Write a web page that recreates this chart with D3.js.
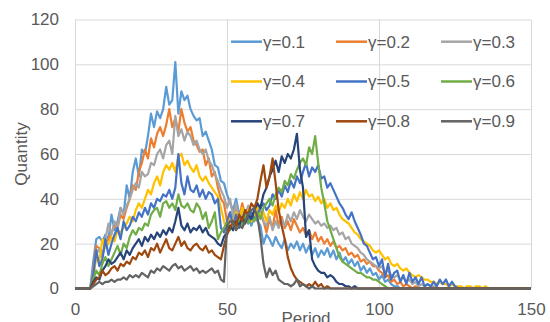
<!DOCTYPE html>
<html>
<head>
<meta charset="utf-8">
<script src="https://cdn.jsdelivr.net/npm/d3@7"></script>
<style>
  body { margin: 0; background: #fff; }
  svg { display: block; font-family: "Liberation Sans", Arial, sans-serif; }
</style>
</head>
<body>
<div id="chart"></div>
<script>
// data (one value per period 0..150)
var seriesNames = ["γ=0.1", "γ=0.2", "γ=0.3", "γ=0.4", "γ=0.5", "γ=0.6", "γ=0.7", "γ=0.8", "γ=0.9"];
var seriesColors = ["#5B9BD5", "#ED7D31", "#A5A5A5", "#FFC000", "#4472C4", "#70AD47", "#264478", "#9E480E", "#636363"];
var xTicks = [0, 50, 100, 150];
var yTicks = [0, 20, 40, 60, 80, 100, 120];

var g01 = [0,0,0,0,0,0,12,22,23,21, 24,22,33,26,30,36,33,46,40,52, 58,50,62,60,68,78,72,79,76,80,
  90,82,84,101,78,88,84,86,80,77, 75,76,68,70,66,62,55,54,48,47, 42,38,35,40,33,36,30,33,28,32,
  30,28,20,24,22,19,23,20,18,22, 17,20,18,21,17,20,16,19,15,18, 14,17,15,18,14,17,13,16,12,14,
  11,13,10,12,8,10,7,9,6,7, 4,6,3,4,2,1,1,0,0,0, 0,0,0,0,0,0,0,0,0,0,
  0,0,0,0,0,0,0,0,0,0, 0,0,0,0,0,0,0,0,0,0, 0,0,0,0,0,0,0,0,0,0, 0];
var g02 = [0,0,0,0,0,0,8,19,18,15, 20,22,25,28,27,33,31,36,40,46, 44,52,56,62,58,67,63,69,72,68,
  73,80,72,76,70,80,74,70,72,66, 64,61,62,55,58,50,52,45,40,38, 30,34,28,35,31,38,33,36,30,34,
  38,33,30,25,31,27,35,28,32,27, 30,26,31,28,25,27,24,26,22,25, 21,23,20,22,19,21,18,19,17,18,
  15,16,14,15,12,13,11,12,10,10, 8,7,5,6,3,4,2,3,1,2, 1,0,1,0,0,0,0,0,0,0,
  0,0,0,0,0,0,0,0,0,0, 0,0,0,0,0,0,0,0,0,0, 0,0,0,0,0,0,0,0,0,0, 0];
var g03 = [0,0,0,0,0,0,6,15,18,14, 22,29,24,30,27,36,33,37,40,44, 47,45,52,50,51,56,55,60,62,58,
  64,66,60,77,68,71,66,70,68,64, 66,62,60,62,57,55,51,48,44,41, 36,40,32,38,30,35,33,37,31,35,
  33,36,30,28,32,26,30,27,31,28, 33,30,34,31,35,32,30,33,31,29, 30,28,29,27,28,26,27,24,25,22,
  23,20,19,18,16,15,13,12,11,10, 9,10,7,8,6,5,6,4,5,3, 4,2,3,1,2,1,2,1,1,0,
  0,0,0,0,0,0,0,0,0,0, 0,0,0,0,0,0,0,0,0,0, 0,0,0,0,0,0,0,0,0,0, 0];
var g04 = [0,0,0,0,0,0,5,14,12,22, 18,20,23,21,26,25,27,29,32,30, 35,38,36,40,44,42,47,50,46,52,
  55,53,56,52,59,60,55,57,54,52, 55,50,48,50,47,45,43,41,36,30, 25,32,28,34,30,36,31,35,30,33,
  36,32,34,30,35,33,37,34,38,36, 40,37,42,39,43,40,44,41,42,39, 41,38,40,36,38,35,36,33,31,30,
  29,27,25,24,22,21,20,19,17,16, 17,15,13,14,11,10,11,9,8,9, 7,6,5,6,5,4,4,3,3,2,
  3,2,2,1,2,1,1,1,0,1, 1,0,1,1,0,1,0,0,0,0, 0,0,0,0,0,0,0,0,0,0, 0];
var g05 = [0,0,0,0,0,0,6,17,10,13, 22,15,20,24,27,22,30,26,28,32, 30,34,32,36,33,38,36,40,39,42,
  41,44,40,45,60,47,42,50,44,43, 46,41,44,40,43,42,38,40,27,25, 30,34,28,33,27,31,35,29,34,31,
  33,36,38,35,37,42,40,44,41,46, 43,48,45,50,47,52,56,50,54,52, 55,49,50,45,47,44,41,38,36,33,
  31,34,30,27,24,20,19,16,13,14, 10,13,5,11,4,7,8,3,6,2, 7,3,5,2,5,1,2,1,3,1,
  4,2,4,1,3,1,0,0,0,0, 0,0,0,0,0,0,0,0,0,0, 0,0,0,0,0,0,0,0,0,0, 0];
var g06 = [0,0,0,0,0,0,4,8,6,11, 14,10,13,16,19,15,20,18,23,26, 24,27,26,29,28,33,35,36,32,38,
  39,36,38,35,42,37,36,38,35,34, 38,36,31,34,27,30,34,22,25,27, 29,26,30,27,31,28,33,29,32,30,
  34,31,36,38,40,37,42,45,43,48, 46,51,49,53,56,58,55,63,60,68, 56,45,38,30,26,22,18,14,12,11,
  10,9,8,7,7,6,5,5,4,4, 3,2,1,0,0,0,0,0,0,0, 0,0,0,0,0,0,0,0,0,0,
  0,0,0,0,0,0,0,0,0,0, 0,0,0,0,0,0,0,0,0,0, 0,0,0,0,0,0,0,0,0,0, 0];
var g07 = [0,0,0,0,0,0,3,5,4,8, 10,13,11,12,14,16,13,17,15,18, 20,22,19,23,21,24,22,25,23,26,
  24,27,25,30,36,28,26,29,25,27, 26,28,25,27,24,23,22,20,19,23, 25,28,26,30,28,32,29,33,31,35,
  38,36,42,45,50,53,57,52,59,56, 60,58,62,69,53,45,23,26,13,10, 8,7,7,5,6,5,3,2,2,1,
  1,0,1,0,0,0,0,0,0,0, 0,0,0,0,0,0,0,0,0,0, 0,0,0,0,0,0,0,0,0,0,
  0,0,0,0,0,0,0,0,0,0, 0,0,0,0,0,0,0,0,0,0, 0,0,0,0,0,0,0,0,0,0, 0];
var g08 = [0,0,0,0,0,0,2,4,5,8, 6,7,9,10,8,11,10,12,11,14, 13,16,15,17,14,18,17,20,16,19,
  22,18,17,20,23,19,21,18,17,19, 20,18,17,19,16,17,15,14,13,19, 24,27,30,28,33,30,35,33,38,36,
  40,48,55,45,50,58,47,35,28,22, 14,9,6,4,3,2,1,2,1,3, 1,2,0,1,0,0,0,0,0,0,
  0,0,0,0,0,0,0,0,0,0, 0,0,0,0,0,0,0,0,0,0, 0,0,0,0,0,0,0,0,0,0,
  0,0,0,0,0,0,0,0,0,0, 0,0,0,0,0,0,0,0,0,0, 0,0,0,0,0,0,0,0,0,0, 0];
var g09 = [0,0,0,0,0,0,1,2,3,2, 3,3,4,3,4,4,5,4,6,5, 6,5,7,6,5,8,7,9,8,10,
  9,8,10,11,9,10,8,9,10,8, 9,7,8,7,8,9,7,8,4,3, 28,30,29,26,28,27,30,33,35,36,
  32,23,11,5,9,6,8,4,3,2, 2,1,2,4,1,2,1,0,1,0, 0,0,0,0,0,0,0,0,0,0,
  0,0,0,0,0,0,0,0,0,0, 0,0,0,0,0,0,0,0,0,0, 0,0,0,0,0,0,0,0,0,0,
  0,0,0,0,0,0,0,0,0,0, 0,0,0,0,0,0,0,0,0,0, 0,0,0,0,0,0,0,0,0,0, 0];

var seriesValues = [g01, g02, g03, g04, g05, g06, g07, g08, g09];

var svgWidth = 550;
var svgHeight = 322;
var margin = { top: 19.5, right: 19, bottom: 33.5, left: 75 };
var width = svgWidth - margin.left - margin.right;
var height = svgHeight - margin.top - margin.bottom;

var textColor = "#595959";
var gridColor = "#d9d9d9";

var svg = d3.select("#chart")
  .append("svg")
  .attr("width", svgWidth)
  .attr("height", svgHeight);

var chartGroup = svg.append("g")
  .attr("transform", `translate(${margin.left}, ${margin.top})`);

var x = d3.scaleLinear().domain([0, 150]).range([0, width]);
var y = d3.scaleLinear().domain([0, 120]).range([height, 0]);

// y gridlines + labels
var yAxis = chartGroup.append("g")
  .call(d3.axisLeft(y).tickValues(yTicks).tickSize(-width).tickPadding(16));
yAxis.select(".domain").remove();
yAxis.selectAll("line").attr("stroke", gridColor);
yAxis.selectAll("text").attr("fill", textColor).style("font-size", "17px");

// x gridlines + labels
var xAxis = chartGroup.append("g")
  .attr("transform", `translate(0, ${height})`)
  .call(d3.axisBottom(x).tickValues(xTicks).tickSize(-height).tickPadding(14));
xAxis.select(".domain").remove();
xAxis.selectAll("line").attr("stroke", gridColor);
xAxis.selectAll("text").attr("fill", textColor).style("font-size", "17px");

// lines
var line = d3.line()
  .x((d, i) => x(i))
  .y(d => y(d));

chartGroup.selectAll(".series")
  .data(seriesValues)
  .enter()
  .append("path")
  .attr("class", "series")
  .attr("d", d => line(d))
  .attr("fill", "none")
  .attr("stroke", (d, i) => seriesColors[i])
  .attr("stroke-width", 2.2)
  .attr("stroke-linejoin", "round");

// legend (3 x 3)
var legend = svg.append("g");
var legendItems = legend.selectAll("g")
  .data(seriesNames)
  .enter()
  .append("g")
  .attr("transform", (d, i) => `translate(${231 + (i % 3) * 105}, ${41.7 + Math.floor(i / 3) * 39.8})`);

legendItems.append("line")
  .attr("x1", 0).attr("x2", 31)
  .attr("y1", 0).attr("y2", 0)
  .attr("stroke", (d, i) => seriesColors[i])
  .attr("stroke-width", 2.5);

legendItems.append("text")
  .attr("x", 32)
  .attr("dy", "0.35em")
  .attr("fill", textColor)
  .style("font-size", "17px")
  .text(d => d);

// axis titles
svg.append("text")
  .attr("transform", "translate(27, 154) rotate(-90)")
  .attr("text-anchor", "middle")
  .attr("fill", textColor)
  .style("font-size", "17px")
  .text("Quantity");

svg.append("text")
  .attr("x", 306)
  .attr("y", 324)
  .attr("text-anchor", "middle")
  .attr("fill", textColor)
  .style("font-size", "17px")
  .text("Period");
</script>
</body>
</html>
